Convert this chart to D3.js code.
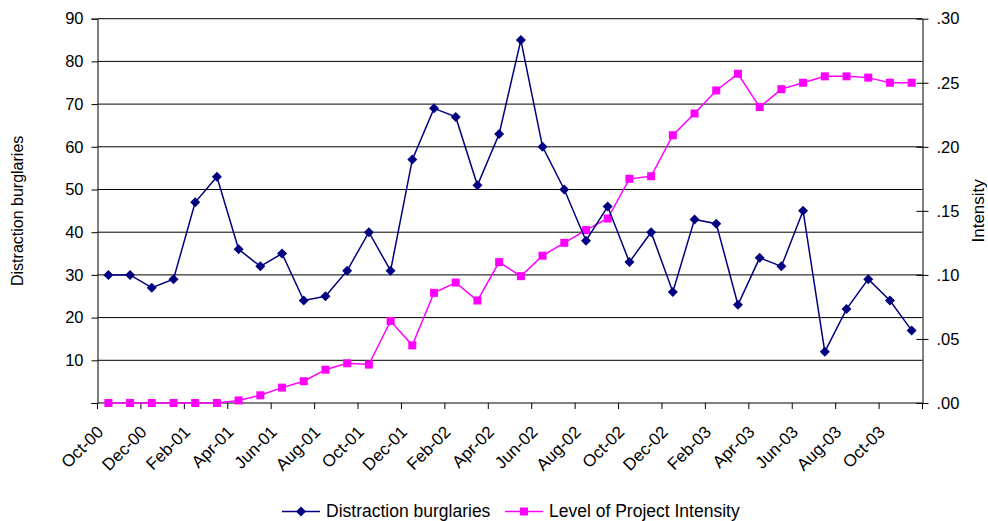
<!DOCTYPE html>
<html>
<head>
<meta charset="utf-8">
<script src="https://cdn.jsdelivr.net/npm/d3@7"></script>
<style>
  html, body { margin: 0; padding: 0; background: #fff; }
  svg { display: block; font-family: "Liberation Sans", Arial, sans-serif; }
</style>
</head>
<body>
<svg id="chart" width="988" height="521"></svg>
<script>
// Monthly categories, Oct-00 .. Nov-03
const months = ["Oct-00","Nov-00","Dec-00","Jan-01","Feb-01","Mar-01","Apr-01","May-01","Jun-01","Jul-01",
  "Aug-01","Sep-01","Oct-01","Nov-01","Dec-01","Jan-02","Feb-02","Mar-02","Apr-02","May-02",
  "Jun-02","Jul-02","Aug-02","Sep-02","Oct-02","Nov-02","Dec-02","Jan-03","Feb-03","Mar-03",
  "Apr-03","May-03","Jun-03","Jul-03","Aug-03","Sep-03","Oct-03","Nov-03"];

// Distraction burglaries per month (left axis)
const burglaries = [30,30,27,29,47,53,36,32,35,24,
  25,31,40,31,57,69,67,51,63,85,
  60,50,38,46,33,40,26,43,42,23,
  34,32,45,12,22,29,24,17];

// Level of project intensity (right axis)
const intensity = [0,0,0,0,0,0,0.002,0.006,0.012,0.017,
  0.026,0.031,0.030,0.064,0.045,0.086,0.094,0.080,0.110,0.099,
  0.115,0.125,0.135,0.144,0.175,0.177,0.209,0.226,0.244,0.257,
  0.231,0.245,0.250,0.255,0.255,0.254,0.250,0.250];

const leftTicks = [0,10,20,30,40,50,60,70,80,90];
const rightTicks = [0,0.05,0.10,0.15,0.20,0.25,0.30];
const seriesNames = ["Distraction burglaries", "Level of Project Intensity"];

const svg = d3.select("#chart");
const plot = { left: 97.5, right: 922.5, top: 18.7, bottom: 403 };

const x = d3.scaleBand().domain(months).range([plot.left, plot.right]).padding(0);
const yL = d3.scaleLinear().domain([0, 90]).range([plot.bottom, plot.top]);
const yR = d3.scaleLinear().domain([0, 0.30]).range([plot.bottom, plot.top]);
const cx = m => x(m) + x.bandwidth() / 2;
const tickFont = 16.5;

// Horizontal gridlines at left-axis ticks
svg.append("g").selectAll("line")
  .data(leftTicks.filter(t => t > 0))
  .join("line")
  .attr("x1", plot.left).attr("x2", plot.right)
  .attr("y1", d => yL(d)).attr("y2", d => yL(d))
  .attr("stroke", "#000").attr("stroke-width", 1);

// Left axis
const leftAxis = d3.axisLeft(yL).tickValues(leftTicks).tickSize(6).tickPadding(8)
  .tickFormat(d => d === 0 ? "" : d);
const gL = svg.append("g").attr("transform", `translate(${plot.left},0)`).call(leftAxis);
gL.select(".domain").attr("stroke", "#000");
gL.selectAll(".tick line").attr("stroke", "#000");
gL.selectAll("text").attr("font-size", tickFont).attr("fill", "#000").attr("font-family", "Liberation Sans, Arial, sans-serif");

// Right axis (ticks cross the axis line)
const rightAxis = d3.axisRight(yR).tickValues(rightTicks).tickSizeInner(6).tickSizeOuter(0).tickPadding(8)
  .tickFormat(d => d3.format(".2f")(d).replace(/^0/, ""));
const gR = svg.append("g").attr("transform", `translate(${plot.right},0)`).call(rightAxis);
gR.select(".domain").attr("stroke", "#000");
gR.selectAll(".tick line").attr("x1", -6).attr("stroke", "#000");
gR.selectAll("text").attr("font-size", tickFont).attr("fill", "#000").attr("font-family", "Liberation Sans, Arial, sans-serif");

// Bottom axis line with ticks every two months
const gB = svg.append("g");
gB.append("line")
  .attr("x1", plot.left).attr("x2", plot.right)
  .attr("y1", plot.bottom).attr("y2", plot.bottom)
  .attr("stroke", "#000");
const tickMonths = months.filter((m, i) => i % 2 === 0);
gB.selectAll("line.tk")
  .data(tickMonths.map(m => x(m)).concat([plot.right]))
  .join("line").attr("class", "tk")
  .attr("x1", d => d).attr("x2", d => d)
  .attr("y1", plot.bottom).attr("y2", plot.bottom + 6)
  .attr("stroke", "#000");
gB.selectAll("text")
  .data(tickMonths)
  .join("text")
  .attr("transform", d => `translate(${cx(d) - 4},${plot.bottom + 30}) rotate(-45)`)
  .attr("text-anchor", "end")
  .attr("font-size", 17)
  .attr("fill", "#000")
  .text(d => d);

// Axis titles
svg.append("text")
  .attr("transform", `translate(23,${(plot.top + plot.bottom) / 2}) rotate(-90)`)
  .attr("text-anchor", "middle").attr("font-size", 16).attr("fill", "#000")
  .text("Distraction burglaries");
svg.append("text")
  .attr("transform", `translate(983.5,${(plot.top + plot.bottom) / 2}) rotate(-90)`)
  .attr("text-anchor", "middle").attr("font-size", 17).attr("fill", "#000")
  .text("Intensity");

// Series lines
const navy = "#000080", magenta = "#FF00FF";
const lineL = d3.line().x((d, i) => cx(months[i])).y(d => yL(d));
const lineR = d3.line().x((d, i) => cx(months[i])).y(d => yR(d));

svg.append("path").datum(intensity).attr("d", lineR)
  .attr("fill", "none").attr("stroke", magenta).attr("stroke-width", 1.5);
svg.append("g").selectAll("rect").data(intensity).join("rect")
  .attr("x", (d, i) => cx(months[i]) - 4).attr("y", d => yR(d) - 4)
  .attr("width", 8).attr("height", 8).attr("fill", magenta);

svg.append("path").datum(burglaries).attr("d", lineL)
  .attr("fill", "none").attr("stroke", navy).attr("stroke-width", 1.5);
svg.append("g").selectAll("path").data(burglaries).join("path")
  .attr("d", "M0,-5L5,0L0,5L-5,0Z")
  .attr("transform", (d, i) => `translate(${cx(months[i])},${yL(d)})`)
  .attr("fill", navy);

// Legend
const legend = svg.append("g");
const items = [
  { name: seriesNames[0], color: navy, x0: 282, shape: "diamond" },
  { name: seriesNames[1], color: magenta, x0: 505, shape: "square" }
];
const ly = 511.5;
items.forEach(it => {
  legend.append("line").attr("x1", it.x0).attr("x2", it.x0 + 38)
    .attr("y1", ly).attr("y2", ly).attr("stroke", it.color).attr("stroke-width", 1.5);
  if (it.shape === "diamond") {
    legend.append("path").attr("d", "M0,-5L5,0L0,5L-5,0Z")
      .attr("transform", `translate(${it.x0 + 19},${ly})`).attr("fill", it.color);
  } else {
    legend.append("rect").attr("x", it.x0 + 15).attr("y", ly - 4)
      .attr("width", 8).attr("height", 8).attr("fill", it.color);
  }
  legend.append("text").attr("x", it.x0 + 44).attr("y", ly + 5.5)
    .attr("font-size", 17.5).attr("fill", "#000").text(it.name);
});
</script>
</body>
</html>
